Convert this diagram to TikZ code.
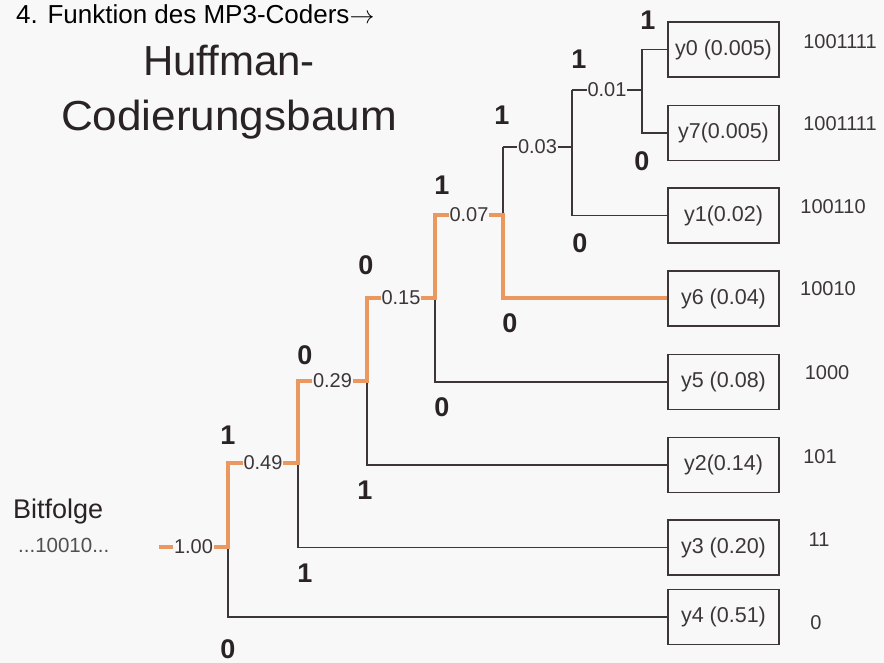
\documentclass[tikz,border=0pt]{standalone}
\usepackage{fontspec}
\setmainfont{Liberation Sans}
\definecolor{bg}{HTML}{F8F8F8}
\definecolor{ln}{HTML}{3C3638}
\definecolor{hl}{HTML}{EA985F}
\definecolor{tx}{HTML}{2A2326}
\definecolor{gr}{HTML}{505050}
\begin{document}
\begin{tikzpicture}[x=1pt,y=-1pt,
  leaf/.style={draw=ln, line width=1.6pt, minimum width=111pt, minimum height=55pt, inner sep=0pt, font=\fontsize{21.5}{24}\selectfont, text=ln},
  val/.style={fill=bg, inner xsep=1pt, inner ysep=0pt, font=\fontsize{20}{22}\selectfont, text=ln},
  bit/.style={font=\fontsize{27}{30}\selectfont\bfseries, text=tx, inner sep=0pt},
  code/.style={font=\fontsize{20}{22}\selectfont, text=ln, inner sep=0pt},
  br/.style={draw=ln, line width=1.7pt},
  hot/.style={draw=hl, line width=4pt, line join=miter},
]
\fill[bg] (0,0) rectangle (884,663);
\useasboundingbox (0,0) rectangle (884,663);

% titles
\node[anchor=base west, inner sep=0pt, font=\fontsize{26}{30}\selectfont, text=black] (title) at (16,24) {4. Funktion des MP3-Coders$\rightarrow$};
\node[anchor=base, inner sep=0pt, font=\fontsize{42}{50}\selectfont, text=tx] (h1) at (229,76) {Huffman-};
\node[anchor=base, inner sep=0pt, font=\fontsize{42}{50}\selectfont, text=tx] (h2) at (229,131) {\scalebox{1.05}[1]{Codierungsbaum}};
\node[anchor=base west, inner sep=0pt, font=\fontsize{27}{30}\selectfont, text=tx] (bf) at (13,518) {Bitfolge};
\node[anchor=base west, inner sep=0pt, font=\fontsize{20.5}{22}\selectfont, text=gr] (seq) at (18,552) {...10010...};

% leaves
\node[leaf] (y0) at (723.5,49.5) {y0 (0.005)};
\node[leaf] (y7) at (723.5,133) {y7(0.005)};
\node[leaf] (y1) at (723.5,215.5) {y1(0.02)};
\node[leaf] (y6) at (723.5,298.5) {y6 (0.04)};
\node[leaf] (y5) at (723.5,382) {y5 (0.08)};
\node[leaf] (y2) at (723.5,465) {y2(0.14)};
\node[leaf] (y3) at (723.5,547.5) {y3 (0.20)};
\node[leaf] (y4) at (723.5,617) {y4 (0.51)};

% junction coordinates
\coordinate (s001) at (572,90);  \coordinate (j001) at (642,90);
\coordinate (s003) at (503,147); \coordinate (j003) at (572,147);
\coordinate (s007) at (435,215); \coordinate (j007) at (503,215);
\coordinate (s015) at (367,298); \coordinate (j015) at (435,298);
\coordinate (s029) at (298,381); \coordinate (j029) at (367,381);
\coordinate (s049) at (228,463); \coordinate (j049) at (298,463);
\coordinate (s100) at (159,547); \coordinate (j100) at (228,547);

% tree branches
\draw[br] (s001) -- (j001) (j001) |- (y0.west) (j001) |- (y7.west);
\draw[br] (s003) -- (j003) (j003) -- (s001) (j003) |- (y1.west);
\draw[br] (s007) -- (j007) (j007) -- (s003) (j007) |- (y6.west);
\draw[br] (s015) -- (j015) (j015) -- (s007) (j015) |- (y5.west);
\draw[br] (s029) -- (j029) (j029) -- (s015) (j029) |- (y2.west);
\draw[br] (s049) -- (j049) (j049) -- (s029) (j049) |- (y3.west);
\draw[br] (s100) -- (j100) (j100) -- (s049) (j100) |- (y4.west);

% highlighted path
\draw[hot] (s100) -- (j100) -- (s049) -- (j049) -- (s029) -- (j029) -- (s015) -- (j015) -- (s007) -- (j007) |- (y6.west);

% values
\node[val] (v001) at (607,90) {0.01};
\node[val] (v003) at (537.5,147) {0.03};
\node[val] (v007) at (469,215) {0.07};
\node[val] (v015) at (401,298) {0.15};
\node[val] (v029) at (332.5,381) {0.29};
\node[val] (v049) at (263,463) {0.49};
\node[val] (v100) at (193.5,547) {1.00};

% bits
\node[bit] (b1) at (648,20) {1};
\node[bit] (b2) at (579,59) {1};
\node[bit] (b3) at (642,161) {0};
\node[bit] (b4) at (502,115) {1};
\node[bit] (b5) at (580,243) {0};
\node[bit] (b6) at (442,185) {1};
\node[bit] (b7) at (510,323) {0};
\node[bit] (b8) at (366,265) {0};
\node[bit] (b9) at (442,407) {0};
\node[bit] (b10) at (305,355) {0};
\node[bit] (b11) at (365,490) {1};
\node[bit] (b12) at (228,435) {1};
\node[bit] (b13) at (305,573) {1};
\node[bit] (b14) at (228,649) {0};

% codes
\node[code] (c0) at (840,42) {1001111};
\node[code] (c7) at (840,124) {1001111};
\node[code] (c1) at (833,207) {100110};
\node[code] (c6) at (828,289) {10010};
\node[code] (c5) at (827,373) {1000};
\node[code] (c2) at (820,457) {101};
\node[code] (c3) at (819,540) {11};
\node[code] (c4) at (816,623) {0};
\end{tikzpicture}
\end{document}
